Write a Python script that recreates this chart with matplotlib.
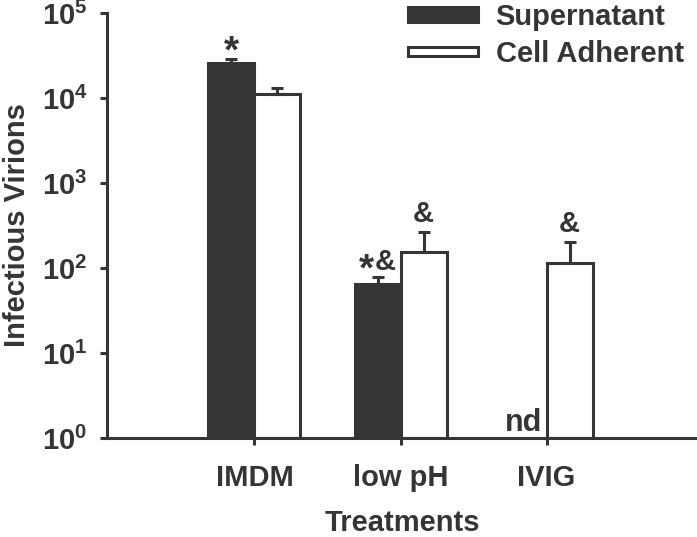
import numpy as np
import matplotlib
matplotlib.use("Agg")
import matplotlib.pyplot as plt
from matplotlib.patches import Patch, Rectangle
from matplotlib.legend_handler import HandlerPatch

# data (log scale)
treatments = ["IMDM", "low pH", "IVIG"]
supernatant = [25600, 65, np.nan]          # IVIG: not detected
supernatant_top = [28700, 78, np.nan]      # top of error bar
adherent = [11000, 154, 114]
adherent_top = [13000, 265, 203]
sup_marks = ["*", "*&", ""]
adh_marks = ["", "&", "&"]

dark = "#353535"
plt.rcParams["font.family"] = ["Liberation Sans", "DejaVu Sans"]
plt.rcParams["font.weight"] = "bold"
plt.rcParams["mathtext.fontset"] = "custom"
plt.rcParams["mathtext.rm"] = "Liberation Sans:bold"
plt.rcParams["mathtext.bf"] = "Liberation Sans:bold"
plt.rcParams["mathtext.it"] = "Liberation Sans:bold"

fig = plt.figure(figsize=(6.97, 5.37), dpi=100)
ax = fig.add_axes([0.1535, 0.1844, 0.8465, 0.7914])

x = np.arange(len(treatments))
w = 0.315
lw = 2.2

sup = np.array(supernatant, dtype=float)
adh = np.array(adherent, dtype=float)
sup_err = np.array(supernatant_top) - sup
adh_err = np.array(adherent_top) - adh

ax.bar(x - w / 2, sup - 1, w, bottom=1, color=dark, edgecolor=dark, linewidth=lw,
       yerr=[np.zeros(3), sup_err], error_kw=dict(ecolor=dark, elinewidth=lw, capsize=4.5, capthick=lw),
       zorder=2)
ax.bar(x + w / 2, adh - 1, w, bottom=1, color="white", edgecolor=dark, linewidth=lw,
       yerr=[np.zeros(3), adh_err], error_kw=dict(ecolor=dark, elinewidth=lw, capsize=4.5, capthick=lw),
       zorder=2)


def put_mark(mark, xpos, ypos, dy):
    # asterisks are drawn bigger than the ampersands, as in the original
    sizes = {"*": 28, "&": 21}
    widths = {"*": 11.0, "&": 15.5}
    total = sum(widths[c] for c in mark)
    left = -total / 2
    for c in mark:
        ax.annotate(c, (xpos, ypos), xytext=(left + widths[c] / 2, dy if c == "&" else dy - 9),
                    textcoords="offset points", ha="center", va="bottom",
                    fontsize=sizes[c], fontweight="bold", color=dark)
        left += widths[c]


for i in range(len(treatments)):
    if sup_marks[i]:
        put_mark(sup_marks[i], x[i] - w / 2, supernatant_top[i], 1)
    if adh_marks[i]:
        put_mark(adh_marks[i], x[i] + w / 2, adherent_top[i], 3)
    if np.isnan(sup[i]):
        ax.annotate("nd", (x[i], 1), xytext=(-3, 0), textcoords="offset points",
                    ha="right", va="bottom", fontsize=22, fontweight="bold", color=dark)

ax.set_yscale("log")
ax.set_ylim(1, 1e5)
ax.set_xlim(-1.01, 3.03)
ax.set_yticks([1, 10, 100, 1e3, 1e4, 1e5])
ax.set_yticklabels([r"$\mathbf{10^{%d}}$" % k for k in range(6)])
ax.minorticks_off()
ax.set_xticks(x)
ax.set_xticklabels(treatments)

for s in ["top", "right"]:
    ax.spines[s].set_visible(False)
for s in ["left", "bottom"]:
    ax.spines[s].set_linewidth(lw)
    ax.spines[s].set_color(dark)

ax.tick_params(axis="both", colors=dark, width=lw, length=5, labelsize=21)
ax.tick_params(axis="y", pad=9)
ax.tick_params(axis="x", pad=14)

ax.set_xlabel("Treatments", fontsize=21, fontweight="bold", color=dark, labelpad=12)
ax.set_ylabel("Infectious Virions", fontsize=21, fontweight="bold", color=dark, labelpad=8)


def thin_box(legend, orig_handle, xdescent, ydescent, width, height, fontsize):
    return Rectangle((-xdescent, -ydescent + height * 0.2), width, height * 0.6)


h_sup = Patch(facecolor=dark, edgecolor=dark, linewidth=lw)
h_adh = Patch(facecolor="white", edgecolor=dark, linewidth=lw)
leg = ax.legend([h_sup, h_adh], ["Supernatant", "Cell Adherent"], loc="upper left",
                bbox_to_anchor=(408 / 697, 1 - 3 / 537), bbox_transform=fig.transFigure,
                frameon=False, fontsize=21, handlelength=2.4, handleheight=0.45,
                handletextpad=0.6, labelspacing=0.3, borderpad=0, borderaxespad=0,
                handler_map={h_adh: HandlerPatch(patch_func=thin_box)})
for t in leg.get_texts():
    t.set_color(dark)

fig.savefig("out.png", dpi=100)
